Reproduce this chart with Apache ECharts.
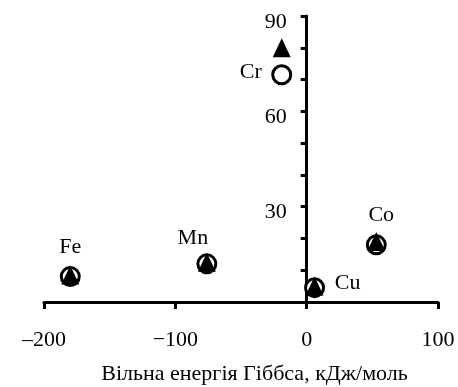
<!DOCTYPE html>
<html>
<head>
<meta charset="utf-8">
<script src="https://cdn.jsdelivr.net/npm/echarts@6/dist/echarts.min.js"></script>
<style>html,body{margin:0;padding:0;background:#fff;}#c{width:458px;height:387px;}</style>
</head>
<body>
<div id="c"></div>
<script>
// Data
const elements = ['Fe', 'Mn', 'Cr', 'Cu', 'Co'];
const gibbsEnergy = [-180, -76, -19, 6, 53];
const circleValues = [8, 12, 71.5, 4.5, 18];
const triangleValues = [8.5, 12.5, 80, 5, 19];
const xTicks = [-200, -100, 0, 100];
const yLabelTicks = [30, 60, 90];
const xTitle = 'Вільна енергія Гіббса, кДж/моль';

const labelOffsets = {Fe: [0, -29], Mn: [-14, -26], Cr: [-31, -3], Cu: [33, -4], Co: [5, -30]};
const FONT = 'Liberation Serif';

const W = 458, GL = 44, GR = 20;
const xMin = -200, xMax = 100;
const gridW = W - GL - GR;
const yAxisShift = gridW * (0 - xMin) / (xMax - xMin);

const chart = echarts.init(document.getElementById('c'), null, {renderer: 'canvas'});
chart.setOption({
  animation: false,
  backgroundColor: '#fff',
  grid: {left: GL, right: GR, top: 16, bottom: 85, containLabel: false, outerBoundsMode: 'none'},
  xAxis: {
    type: 'value', min: xMin, max: xMax, interval: 100,
    name: xTitle, nameLocation: 'middle', nameGap: 61,
    nameTextStyle: {fontFamily: FONT, fontSize: 22, color: '#000', padding: [0, 0, 0, 27]},
    axisLine: {onZero: false, lineStyle: {color: '#000', width: 3}},
    axisTick: {show: true, inside: false, length: 7, lineStyle: {color: '#000', width: 3}},
    axisLabel: {
      fontFamily: FONT, fontSize: 22, color: '#000', margin: 27,
      formatter: v => xTicks.includes(v) ? (v === -200 ? '\u2013200' : (v < 0 ? '\u2212' + (-v) : String(v))) : ''
    },
    splitLine: {show: false}
  },
  yAxis: {
    type: 'value', min: 0, max: 90, interval: 10,
    offset: -yAxisShift,
    axisLine: {onZero: false, lineStyle: {color: '#000', width: 3}},
    axisTick: {show: true, inside: false, length: 6, lineStyle: {color: '#000', width: 3}},
    axisLabel: {
      fontFamily: FONT, fontSize: 22, color: '#000', margin: 20,
      formatter: v => yLabelTicks.includes(v) ? '{a|' + v + '}' : '',
      rich: {a: {fontFamily: FONT, fontSize: 22, color: '#000', padding: [12, 0, 0, 0]}}
    },
    splitLine: {show: false}
  },
  series: [
    {
      type: 'scatter', symbol: 'circle', symbolSize: 18,
      itemStyle: {color: '#fff', borderColor: '#000', borderWidth: 3, opacity: 1},
      data: elements.map((e, i) => ({
        value: [gibbsEnergy[i], circleValues[i]],
        label: {show: true, position: 'inside', offset: labelOffsets[e], formatter: e,
          fontFamily: FONT, fontSize: 22, color: '#000'}
      })),
      z: 2
    },
    {
      type: 'scatter', symbol: 'triangle', symbolSize: [18, 19],
      itemStyle: {color: '#000', opacity: 1},
      data: elements.map((e, i) => [gibbsEnergy[i], triangleValues[i]]),
      z: 3
    }
  ]
});
</script>
</body>
</html>
